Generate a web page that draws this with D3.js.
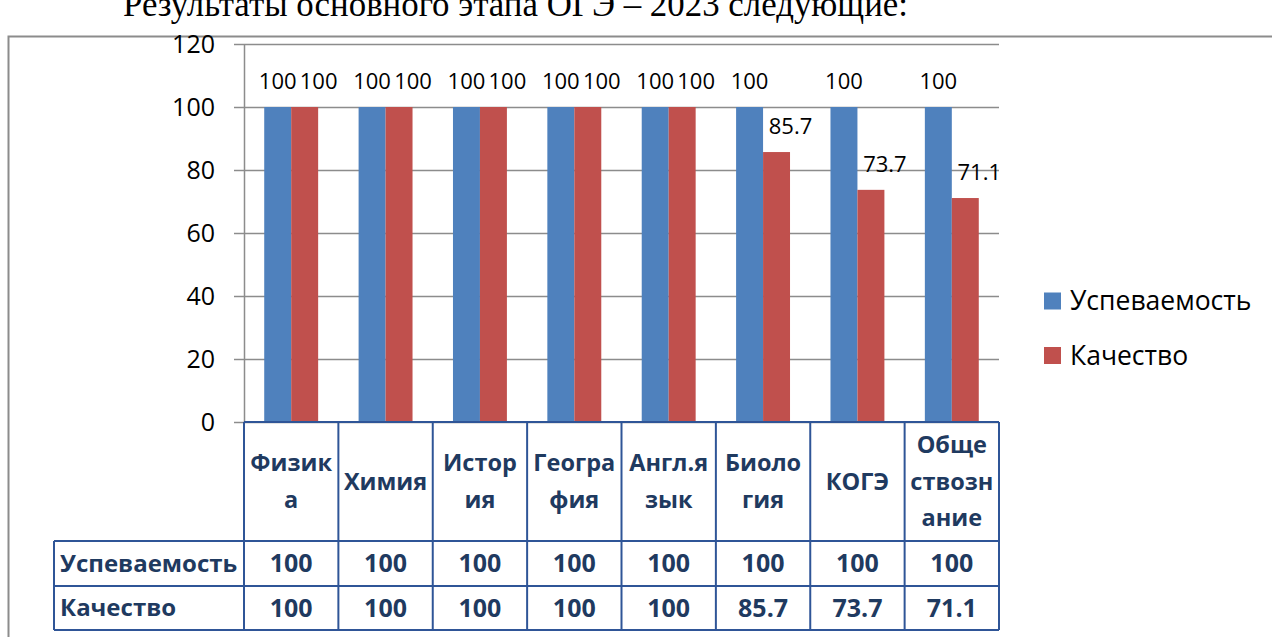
<!DOCTYPE html>
<html><head><meta charset="utf-8">
<script src="https://cdn.jsdelivr.net/npm/d3@7"></script>
<style>body{margin:0;background:#fff}svg{display:block}</style>
</head><body>
<svg id="c" width="1272" height="637"></svg>
<script>
const categories = ["Физика","Химия","История","География","Англ.язык","Биология","КОГЭ","Обществознание"];
const headerLines = [["Физик","а"],["Химия"],["Истор","ия"],["Геогра","фия"],["Англ.я","зык"],["Биоло","гия"],["КОГЭ"],["Обще","ствозн","ание"]];
const seriesNames = ["Успеваемость","Качество"];
const uspevaemost = [100,100,100,100,100,100,100,100];
const kachestvo = [100,100,100,100,100,85.7,73.7,71.1];
const yTicks = [0,20,40,60,80,100,120];
const titleText = "Результаты основного этапа ОГЭ – 2023  следующие:";

const colors = ["#4F81BD","#C0504D"];
const series = [uspevaemost, kachestvo];
const svg = d3.select("#c");
const font = "'Open Sans', sans-serif";
const tableColor = "#2F5597", tableText = "#1F3A60";

// page text and frame
svg.append("text").attr("x",123).attr("y",16).attr("font-family","'Liberation Serif', serif")
  .attr("font-size",35).attr("fill","#000").attr("textLength",785).attr("lengthAdjust","spacingAndGlyphs").text(titleText);
svg.append("path").attr("d","M8.5,637 V36.5 H1272").attr("fill","none").attr("stroke","#8c8c8c").attr("stroke-width",2);

const x = d3.scaleBand().domain(categories).range([244,999]).padding(0);
const y = d3.scaleLinear().domain([0,120]).range([422,44]);

// grid
svg.append("g").attr("transform","translate(244,0)")
  .call(d3.axisLeft(y).tickValues(yTicks).tickSize(-(999-244)).tickFormat(""))
  .call(g=>g.select(".domain").remove())
  .call(g=>g.selectAll("line").attr("stroke","#8c8c8c").attr("stroke-width",1.5));
// axis
svg.append("g").attr("transform","translate(244,0)")
  .call(d3.axisLeft(y).tickValues(yTicks).tickSize(10).tickPadding(19).tickSizeOuter(0))
  .call(g=>g.select(".domain").attr("stroke","#8c8c8c").attr("stroke-width",1.5))
  .call(g=>g.selectAll("line").attr("stroke","#8c8c8c").attr("stroke-width",1.5))
  .call(g=>g.selectAll("text").attr("font-family",font).attr("font-size",25).attr("fill","#000").attr("dy","0.35em"));

const bw = x.bandwidth()/3.5;
const data = [];
categories.forEach((c,i)=>series.forEach((s,j)=>data.push({c,j,v:s[i]})));
svg.append("g").selectAll("rect").data(data).join("rect")
  .attr("x",d=>x(d.c)+x.bandwidth()/2 - bw + d.j*bw)
  .attr("width",bw)
  .attr("y",d=>y(d.v)).attr("height",d=>y(0)-y(d.v))
  .attr("fill",d=>colors[d.j]);
svg.append("g").selectAll("text").data(data).join("text")
  .attr("x",d=>x(d.c)+x.bandwidth()/2 - bw/2 + d.j*bw + (d.j?14:0))
  .attr("y",d=>y(d.v)-26).attr("dy","0.35em")
  .attr("text-anchor","middle").attr("font-family",font).attr("font-size",22).attr("fill","#000")
  .text(d=>d.v);

// legend
const leg = svg.append("g");
seriesNames.forEach((n,i)=>{
  const ly = 301 + i*54.5;
  leg.append("rect").attr("x",1044).attr("y",ly-8.5).attr("width",17).attr("height",17).attr("fill",colors[i]);
  leg.append("text").attr("x",1070).attr("y",ly).attr("dy","0.35em").attr("font-family",font)
    .attr("font-size",26.5).attr("fill","#000").text(n);
});

// data table
const t = svg.append("g");
const rowTops = [422,541,586,630];
const colX = categories.map(c=>x(c)).concat([999]);
const ln = (x1,y1,x2,y2)=>t.append("line").attr("x1",x1).attr("y1",y1).attr("x2",x2).attr("y2",y2)
  .attr("stroke",tableColor).attr("stroke-width",2);
ln(244,422,999,422);
ln(54,541,999,541); ln(54,586,999,586); ln(54,630,999,630);
ln(54,541,54,630);
colX.forEach(cx=>ln(cx,422,cx,630));
categories.forEach((c,i)=>{
  const lines = headerLines[i];
  const cx = x(c)+x.bandwidth()/2, cy = 481.5, lh = 36.5;
  lines.forEach((l,k)=>{
    t.append("text").attr("x",cx).attr("y",cy+(k-(lines.length-1)/2)*lh).attr("dy","0.35em")
      .attr("text-anchor","middle").attr("font-family",font).attr("font-weight","bold")
      .attr("font-size",23.5).attr("fill",tableText).text(l);
  });
  series.forEach((s,j)=>{
    t.append("text").attr("x",cx).attr("y",(rowTops[j+1]+rowTops[j+2])/2).attr("dy","0.35em")
      .attr("text-anchor","middle").attr("font-family",font).attr("font-weight","bold")
      .attr("font-size",25).attr("fill",tableText).text(s[i]);
  });
});
seriesNames.forEach((n,j)=>{
  t.append("text").attr("x",60).attr("y",(rowTops[j+1]+rowTops[j+2])/2).attr("dy","0.35em")
    .attr("font-family",font).attr("font-weight","bold").attr("font-size",24).attr("fill",tableText).text(n);
});
</script>
</body></html>
